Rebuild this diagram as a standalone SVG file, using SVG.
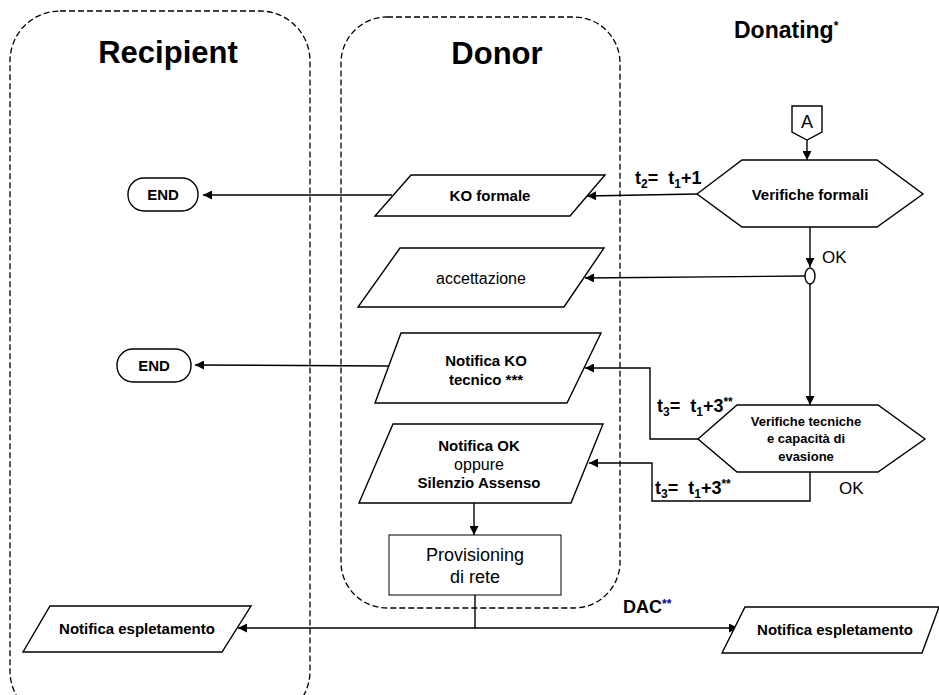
<svg xmlns="http://www.w3.org/2000/svg" width="939" height="695" viewBox="0 0 939 695">
<style>
.lane{fill:none;stroke:#000;stroke-width:1.3;stroke-dasharray:6,3}
.shape{fill:#fff;stroke:#000;stroke-width:1.4}
.conn{fill:none;stroke:#000;stroke-width:1.4}
text{font-family:"Liberation Sans",Arial,sans-serif;fill:#000}
.title{font-size:31px;font-weight:bold;text-anchor:middle}
.b{font-size:15px;font-weight:bold;text-anchor:middle}
.r{font-size:16px;text-anchor:middle}
.lbl{font-size:18px;font-weight:bold}
.sub{font-size:12px}
</style>
<defs>
<marker id="ah" viewBox="0 0 10 10" refX="10" refY="5" markerWidth="11" markerHeight="9" markerUnits="userSpaceOnUse" orient="auto">
<path d="M0,0L10,5L0,10z" fill="#000"/>
</marker>
</defs>
<rect width="939" height="695" fill="#fff"/>
<g id="lanes">
<rect id="lane-recipient" class="lane" x="10" y="11" width="300" height="710" rx="50" ry="50"/>
<rect id="lane-donor" class="lane" x="341" y="17" width="279" height="591" rx="46" ry="46"/>
<text class="title" x="168" y="63">Recipient</text>
<text class="title" x="497" y="64">Donor</text>
<text x="734" y="38" style="font-size:23px;font-weight:bold">Donating<tspan style="font-size:12px" dy="-8">*</tspan></text>
</g>
<g id="connectors">
<path class="conn" d="M807,140 L807,160" marker-end="url(#ah)"/>
<path class="conn" d="M697,194 L587,196" marker-end="url(#ah)"/>
<path class="conn" d="M392,195 L203,195" marker-end="url(#ah)"/>
<path class="conn" d="M810,227 L810,267" marker-end="url(#ah)"/>
<path class="conn" d="M805,276 L585,278" marker-end="url(#ah)"/>
<path class="conn" d="M810,284 L810,405" marker-end="url(#ah)"/>
<path class="conn" d="M698,439 L650,439 L650,368 L585,368" marker-end="url(#ah)"/>
<path class="conn" d="M389,366 L195,365" marker-end="url(#ah)"/>
<path class="conn" d="M810,472 L810,501 L652,501 L652,463 L589,463" marker-end="url(#ah)"/>
<path class="conn" d="M474,503 L474,535" marker-end="url(#ah)"/>
<path class="conn" d="M475,595 L475,628 L238,628" marker-end="url(#ah)"/>
<path class="conn" d="M475,628 L738,628" marker-end="url(#ah)"/>
<text class="lbl" x="635" y="184" xml:space="preserve">t<tspan class="sub" dy="4">2</tspan><tspan dy="-4">=  t</tspan><tspan class="sub" dy="4">1</tspan><tspan dy="-4">+1</tspan></text>
<text x="822" y="263" style="font-size:17px">OK</text>
<text class="lbl" x="657" y="412" xml:space="preserve">t<tspan class="sub" dy="4">3</tspan><tspan dy="-4">=  t</tspan><tspan class="sub" dy="4">1</tspan><tspan dy="-4">+3</tspan><tspan class="sub" dy="-6">**</tspan></text>
<text class="lbl" x="655" y="494" xml:space="preserve">t<tspan class="sub" dy="4">3</tspan><tspan dy="-4">=  t</tspan><tspan class="sub" dy="4">1</tspan><tspan dy="-4">+3</tspan><tspan class="sub" dy="-6">**</tspan></text>
<text x="839" y="494" style="font-size:17px">OK</text>
<text class="lbl" x="623" y="613">DAC<tspan class="sub" fill="#00009A" dy="-5">**</tspan></text>
</g>
<g id="node-A">
<path class="shape" d="M792,106 L822,106 L822,132 L807,140 L792,132 Z"/>
<text x="807" y="128" style="font-size:18px;text-anchor:middle">A</text>
</g>
<g id="node-verifiche-formali">
<path class="shape" d="M697,194 L742,160 L877,160 L923,194 L877,227 L742,227 Z"/>
<text class="b" x="810" y="200">Verifiche formali</text>
</g>
<g id="node-ko-formale">
<path class="shape" d="M411,175 L605,175 L570,216 L375,216 Z"/>
<text class="b" x="490" y="201">KO formale</text>
</g>
<g id="node-end1">
<rect class="shape" x="128" y="178" width="70" height="33" rx="16" ry="16"/>
<text class="b" x="163" y="200">END</text>
</g>
<g id="node-ok-junction">
<ellipse class="shape" cx="810" cy="276" rx="5" ry="8"/>
</g>
<g id="node-accettazione">
<path class="shape" d="M400,248 L604,248 L564,307 L358,307 Z"/>
<text class="r" x="481" y="284">accettazione</text>
</g>
<g id="node-verifiche-tecniche">
<path class="shape" d="M698,439 L737,405 L878,405 L925,439 L878,472 L737,472 Z"/>
<text x="806" y="426" style="font-size:13px;font-weight:bold;text-anchor:middle">Verifiche tecniche</text>
<text x="806" y="443" style="font-size:13px;font-weight:bold;text-anchor:middle">e capacità di</text>
<text x="806" y="461" style="font-size:13px;font-weight:bold;text-anchor:middle">evasione</text>
</g>
<g id="node-notifica-ko-tecnico">
<path class="shape" d="M401,333 L601,333 L567,403 L375,403 Z"/>
<text class="b" x="486" y="366">Notifica KO</text>
<text class="b" x="486" y="385">tecnico ***</text>
</g>
<g id="node-end2">
<rect class="shape" x="117" y="349" width="74" height="33" rx="16" ry="16"/>
<text class="b" x="154" y="371">END</text>
</g>
<g id="node-notifica-ok">
<path class="shape" d="M393,424 L603,424 L571,503 L359,503 Z"/>
<text class="b" x="479" y="451">Notifica OK</text>
<text class="r" x="479" y="470">oppure</text>
<text class="b" x="479" y="488">Silenzio Assenso</text>
</g>
<g id="node-provisioning">
<rect x="389" y="535" width="172" height="60" fill="#fff" stroke="#000" stroke-width="1"/>
<text x="475" y="561" style="font-size:18px;text-anchor:middle">Provisioning</text>
<text x="475" y="583" style="font-size:18px;text-anchor:middle">di rete</text>
</g>
<g id="node-notifica-espletamento-recipient">
<path class="shape" d="M50,606 L251,606 L222,652 L23,652 Z"/>
<text class="b" x="137" y="634">Notifica espletamento</text>
</g>
<g id="node-notifica-espletamento-donating">
<path class="shape" d="M745,607 L939,607 L922,653 L722,653 Z"/>
<text class="b" x="835" y="635">Notifica espletamento</text>
</g>
</svg>
